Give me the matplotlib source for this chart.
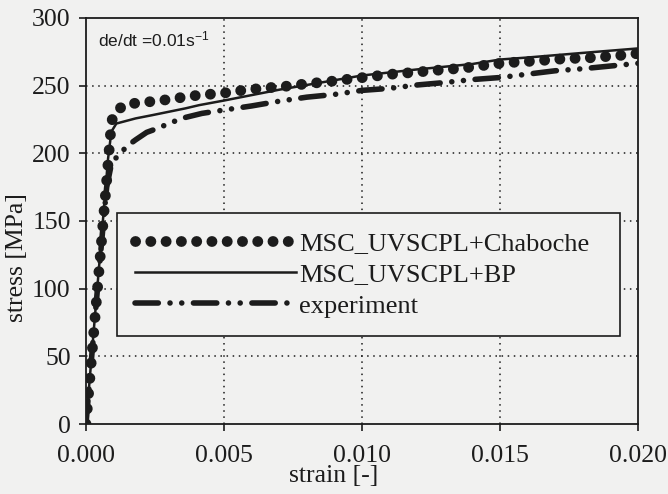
import matplotlib
matplotlib.use("Agg")
import matplotlib.pyplot as plt
from matplotlib.lines import Line2D

# stress-strain curves at de/dt = 0.01 1/s
chab_strain = [0.0, 0.0002, 0.0004, 0.0006, 0.00075, 0.00087, 0.00092, 0.0010, 0.0014,
               0.0019, 0.0025, 0.0030, 0.0036, 0.0041, 0.0047, 0.0052, 0.0058, 0.0064,
               0.0069, 0.0075, 0.0080, 0.0086, 0.0092, 0.0098, 0.0103, 0.0108, 0.0114,
               0.0120, 0.0125, 0.0131, 0.0137, 0.0142, 0.0148, 0.0153, 0.0158, 0.0164,
               0.0170, 0.0175, 0.0182, 0.0187, 0.0192, 0.0198, 0.0200]
chab_stress = [0.0, 48.0, 96.0, 144.0, 180.0, 210.0, 222.0, 229.5, 236.0,
               237.3, 238.5, 239.8, 241.7, 243.0, 244.0, 245.0, 247.0, 248.0,
               249.0, 250.0, 251.5, 252.5, 254.0, 255.5, 256.5, 258.0, 259.0,
               260.0, 261.0, 262.0, 263.0, 264.4, 266.0, 267.0, 267.6, 268.4,
               269.4, 270.0, 270.5, 271.3, 272.0, 273.3, 273.8]

bp_strain = [0.0, 0.0004, 0.0008, 0.00092, 0.0011, 0.0018, 0.0024, 0.0030, 0.0036,
             0.0041, 0.0050, 0.0060, 0.0070, 0.0080, 0.0090, 0.0100, 0.0120, 0.0140,
             0.0150, 0.0160, 0.0180, 0.0200]
bp_stress = [0.0, 98.0, 196.0, 216.0, 222.0, 225.8, 228.2, 230.7, 233.2,
             235.6, 239.0, 243.0, 247.0, 250.5, 254.0, 257.5, 262.0, 266.0,
             269.3, 270.8, 274.2, 277.5]

exp_strain = [0.0, 0.0002, 0.0004, 0.0006, 0.00075, 0.0009, 0.0011, 0.0015, 0.0018,
              0.0022, 0.0026, 0.0030, 0.0035, 0.0042, 0.0050, 0.0060, 0.0070, 0.0080,
              0.0090, 0.0100, 0.0110, 0.0120, 0.0130, 0.0140, 0.0150, 0.0160, 0.0170,
              0.0180, 0.0190, 0.0200]
exp_stress = [0.0, 48.0, 96.0, 142.0, 175.0, 190.0, 197.0, 205.5, 210.0,
              215.5, 218.5, 222.0, 226.0, 229.5, 232.0, 235.0, 238.5, 241.5,
              243.5, 246.5, 248.0, 250.5, 252.3, 254.5, 256.0, 258.5, 261.0,
              262.5, 264.5, 266.5]

labels = ["MSC_UVSCPL+Chaboche", "MSC_UVSCPL+BP", "experiment"]
xticks = [0.0, 0.005, 0.010, 0.015, 0.020]
yticks = [0, 50, 100, 150, 200, 250, 300]

bg = "#f1f1f0"
ink = "#1c1c1c"

plt.rcParams["font.family"] = ["Liberation Serif", "DejaVu Serif"]
plt.rcParams["mathtext.fontset"] = "custom"
plt.rcParams["mathtext.rm"] = "Liberation Sans"
plt.rcParams["mathtext.it"] = "Liberation Sans:italic"

fig = plt.figure(figsize=(6.68, 4.94), dpi=100, facecolor=bg)
ax = fig.add_axes([0.1287, 0.1417, 0.8264, 0.8219], facecolor=bg)

chab_style = dict(color=ink, lw=7.8, linestyle=(0, (0.01, 1.4)),
                  dash_capstyle="round")
bp_style = dict(color=ink, lw=1.8)
exp_style = dict(color=ink, lw=4.0, linestyle=(0, (4.2, 2.1, 0.01, 2.1, 0.01, 2.1)),
                 dash_capstyle="round")

ax.plot(chab_strain, chab_stress, zorder=3, **chab_style)
ax.plot(bp_strain, bp_stress, zorder=4, **bp_style)
ax.plot(exp_strain, exp_stress, zorder=5, **exp_style)

ax.set_xlim(0, 0.020)
ax.set_ylim(0, 300)
ax.set_xticks(xticks)
ax.set_xticklabels([f"{v:.3f}" for v in xticks])
ax.set_yticks(yticks)

# dotted grid only at the inner ticks
for x in xticks[1:-1]:
    ax.axvline(x, color=ink, lw=1.1, linestyle=(0, (1, 3)), zorder=1)
for y in yticks[1:-1]:
    ax.axhline(y, color=ink, lw=1.1, linestyle=(0, (1, 3)), zorder=1)

for s in ax.spines.values():
    s.set_linewidth(1.3)
    s.set_color(ink)

ax.tick_params(axis="both", direction="out", length=5, width=1.2, colors=ink,
               labelsize=18.5)
ax.tick_params(axis="x", pad=10)
ax.tick_params(axis="y", pad=6)

ax.set_xlabel("strain [-]", fontsize=18.5, color=ink)
ax.set_ylabel("stress [MPa]", fontsize=18.5, color=ink)
ax.xaxis.set_label_coords(0.449, -0.1)
ax.yaxis.set_label_coords(-0.105, 0.41)

ax.text(0.022, 0.929, r"de/dt =0.01s$^{-1}$", transform=ax.transAxes,
        fontsize=12.5, family="Liberation Sans", color=ink, va="baseline")

handles = [Line2D([], [], **chab_style), Line2D([], [], **bp_style),
           Line2D([], [], **exp_style)]
leg = ax.legend(handles, labels, loc="upper left",
                bbox_to_anchor=(0.056, 0.219, 0.911, 0.301), mode="expand",
                borderaxespad=0, prop={"family": "Liberation Serif", "size": 19},
                handlelength=6.1, handletextpad=0.1, labelspacing=0.3,
                borderpad=0.7, fancybox=False, framealpha=1, facecolor=bg,
                edgecolor=ink)
leg.get_frame().set_linewidth(1.2)
leg.set_zorder(6)
for t in leg.get_texts():
    t.set_color(ink)

fig.savefig("out.png", dpi=100, facecolor=bg)
